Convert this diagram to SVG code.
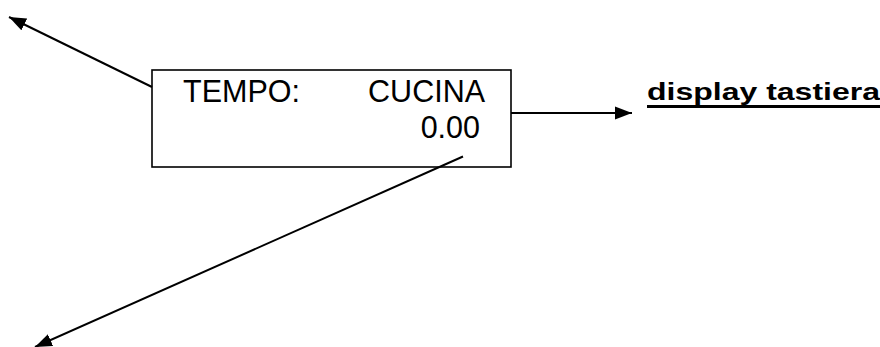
<svg xmlns="http://www.w3.org/2000/svg" width="880" height="347" viewBox="0 0 880 347">
<style>
.ln{stroke:#000;stroke-width:2;fill:none}
.t{font-family:"Liberation Sans",Arial,sans-serif;font-size:30.5px;fill:#000}
.lbl{font-family:"Liberation Sans",Arial,sans-serif;font-size:23.5px;font-weight:bold;fill:#000}
</style>
<defs>
<marker id="ah" markerUnits="userSpaceOnUse" markerWidth="18" markerHeight="14" refX="17" refY="6.5" orient="auto" viewBox="0 0 18 13">
<path d="M0,0 L17,6.5 L0,13 z" fill="#000"/>
</marker>
</defs>
<g id="display">
<rect x="152" y="70" width="359" height="97" fill="#fff" stroke="#000" stroke-width="1.6"/>
<text class="t" x="183" y="101.5">TEMPO:</text>
<text class="t" x="485" y="101.5" text-anchor="end">CUCINA</text>
<text class="t" x="480" y="138" text-anchor="end">0.00</text>
</g>
<g id="label">
<text class="lbl" x="647" y="99.5" textLength="233" lengthAdjust="spacingAndGlyphs">display tastiera</text>
<rect x="647" y="105" width="233" height="3" fill="#000"/>
</g>
<g id="connectors">
<line class="ln" x1="152" y1="87" x2="9" y2="17" marker-end="url(#ah)"/>
<line class="ln" x1="511" y1="113" x2="632" y2="113" marker-end="url(#ah)"/>
<line class="ln" x1="463" y1="156.5" x2="35" y2="347" marker-end="url(#ah)"/>
</g>
</svg>
